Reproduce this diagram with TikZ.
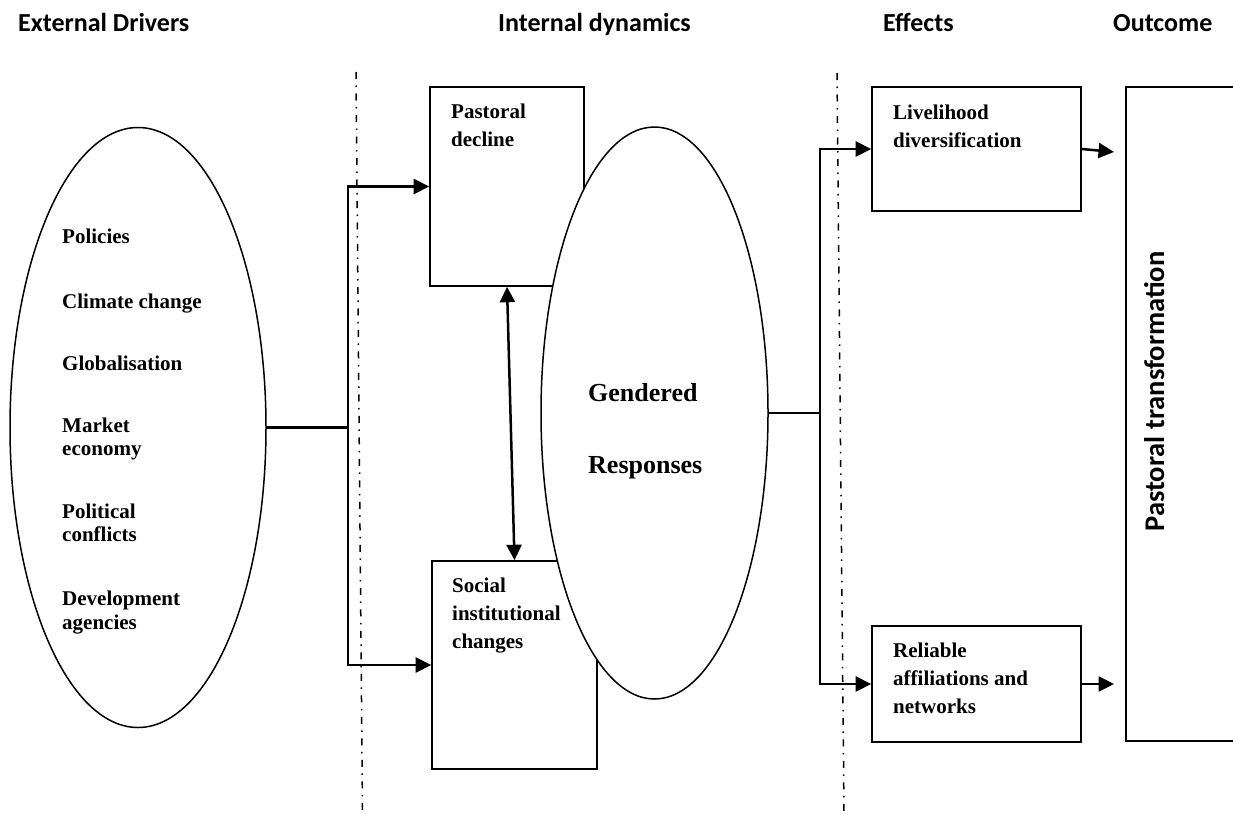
\documentclass[tikz,border=0pt]{standalone}
\usepackage{fontspec}
\setmainfont{Liberation Serif}
\newfontfamily\hdfont{Carlito}
\usetikzlibrary{arrows.meta,shapes.geometric}
\newcommand{\mylines}[1]{\begin{tabular}[t]{@{}l@{}}#1\end{tabular}}
\begin{document}
\begin{tikzpicture}[x=1pt,y=-1pt,
  hdr/.style={font=\hdfont\bfseries\fontsize{26}{31}\selectfont, anchor=base west, inner sep=0},
  itm/.style={font=\bfseries\fontsize{21}{23.5}\selectfont, anchor=base west, inner sep=0},
  btxt/.style={font=\bfseries\fontsize{21}{28}\selectfont, anchor=base west, inner sep=0},
  gtxt/.style={font=\bfseries\fontsize{26}{31}\selectfont, anchor=base west, inner sep=0},
  boxn/.style={draw, line width=1.6pt, rectangle, inner sep=0, fill=white},
  ell/.style={draw, ellipse, line width=1.5pt, inner sep=0, fill=white},
  conn/.style={line width=2.5pt},
  arr/.style={conn, -{Triangle[length=15.5pt,width=15pt]}},
  darr/.style={conn, {Triangle[length=15.5pt,width=15pt]}-{Triangle[length=15.5pt,width=15pt]}},
  sep/.style={line width=1.5pt, dash pattern=on 7pt off 6.5pt on 1.5pt off 6.5pt},
]
\useasboundingbox (0,0) rectangle (1233,814);
\clip (0,0) rectangle (1233,814);

% headers
\node[hdr] (h1) at (18,31.7) {External Drivers};
\node[hdr] (h2) at (498,31.7) {Internal dynamics};
\node[hdr] (h3) at (883,31.7) {Effects};
\node[hdr] (h4) at (1113,31.7) {Outcome};

% separators
\draw[sep] (356,72) -- (362.5,814);
\draw[sep] (837,73) -- (844,814);

% external drivers ellipse
\node[ell, minimum width=256pt, minimum height=600pt] (ext) at (138,427.5) {};
\node[itm] (i1) at (62,243.3) {Policies};
\node[itm] (i2) at (62,308.3) {Climate change};
\node[itm] (i3) at (62,370) {Globalisation};
\node[itm] (i4) at (62,432.3) {\mylines{Market\\economy}};
\node[itm] (i5) at (62,518.3) {\mylines{Political\\conflicts}};
\node[itm] (i6) at (62,605.7) {\mylines{Development\\agencies}};

% internal dynamics boxes
\node[boxn, minimum width=154pt, minimum height=199pt] (pd) at (507,186.5) {};
\node[boxn, minimum width=165pt, minimum height=208pt] (sic) at (514.5,665) {};

% gendered responses ellipse
\node[ell, minimum width=227pt, minimum height=572pt] (gr) at (654.5,413) {};
\node[gtxt] (g1) at (588,401.7) {Gendered};
\node[gtxt] (g2) at (588,473.3) {Responses};

\node[btxt] (pdt) at (451,118.5) {\mylines{Pastoral\\decline}};
\node[btxt] (sict) at (452,592.3) {\mylines{Social\\institutional\\changes}};

% effects boxes
\node[boxn, minimum width=209pt, minimum height=124pt] (liv) at (976.5,149) {};
\node[btxt] (livt) at (893,119.3) {\mylines{Livelihood\\diversification}};
\node[boxn, minimum width=209pt, minimum height=116pt] (rel) at (976.5,684) {};
\node[btxt] (relt) at (893,657.3) {\mylines{Reliable\\affiliations and\\networks}};

% outcome box
\node[boxn, minimum width=150pt, minimum height=654pt] (out) at (1201,414) {};
\node[font=\hdfont\bfseries\fontsize{28.5}{34}\selectfont, rotate=90, anchor=base, inner sep=0] (ptr) at (1164,391.5) {Pastoral transformation};

% connectors
\coordinate (j1) at (348,427.5);
\draw[conn] (ext.east) -- (j1);
\draw[arr] (j1) |- (pd.west);
\draw[arr] (j1) |- (sic.west);
\draw[darr] (pd.south) -- (sic.north);

\coordinate (j2) at (820,413);
\draw[conn] (gr.east) -- (j2);
\draw[arr] (j2) |- (liv.west);
\draw[arr] (j2) |- (rel.west);

\coordinate (o1) at (1114,152);
\coordinate (o2) at (1114,684);
\draw[arr] (liv.east) -- (o1);
\draw[arr] (rel.east) -- (o2);
\end{tikzpicture}
\end{document}
